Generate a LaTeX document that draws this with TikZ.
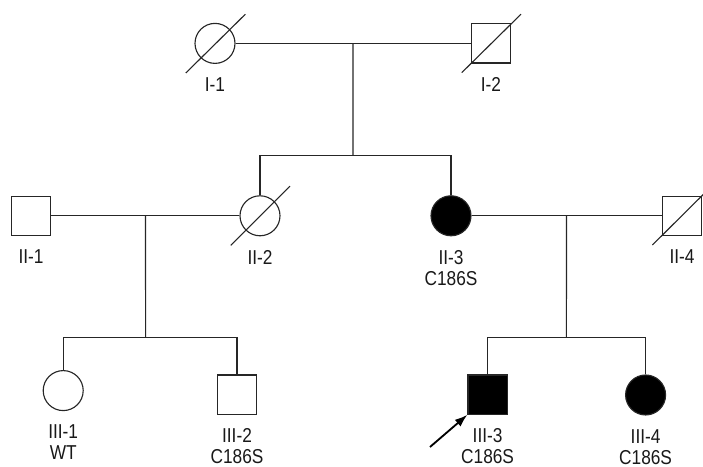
\documentclass[tikz,border=0pt]{standalone}
\usepackage{fontspec}
\setmainfont{Liberation Sans}[FakeStretch=0.86]
\usetikzlibrary{calc,shapes,positioning,arrows.meta}

\begin{document}
\begin{tikzpicture}[line width=0.8pt, draw=black!85, node distance=0.33cm]
    \tikzset{
        male/.style={rectangle, draw, minimum size=0.98cm, inner sep=0pt},
        female/.style={circle, draw, minimum size=1cm, inner sep=0pt},
        affected/.style={fill=black},
        lbl/.style={inner sep=0pt, align=center, text=black!90, font=\fontsize{14.3pt}{15pt}\selectfont}
    }
    \useasboundingbox (0,0) rectangle (17.575,11.675);
    % Place nodes
    \node [female] (I1) at (5.375,10.59) {};
    \node [male] (I2) at (12.275,10.59) {};
    \node [male] (II1) at (0.775,6.28) {};
    \node [female] (II2) at (6.5,6.28) {};
    \node [female, affected] (II3) at (11.275,6.28) {};
    \node [male] (II4) at (17.05,6.28) {};
    \node [female] (III1) at (1.58,1.91) {};
    \node [male] (III2) at (5.925,1.81) {};
    \node [male, affected] (III3) at (12.19,1.81) {};
    \node [female, affected] (III4) at (16.14,1.8) {};
    % Labels
    \node [lbl, below=of I1] (I1l) {I-1};
    \node [lbl, below=of I2] (I2l) {I-2};
    \node [lbl, below=of II1] (II1l) {II-1};
    \node [lbl, below=of II2] (II2l) {II-2};
    \node [lbl, below=of II3] (II3l) {II-3\\C186S};
    \node [lbl, below=of II4] (II4l) {II-4};
    \node [lbl, below=of III1] (III1l) {III-1\\WT};
    \node [lbl, below=of III2] (III2l) {III-2\\C186S};
    \node [lbl, below=of III3] (III3l) {III-3\\C186S};
    \node [lbl, below=of III4] (III4l) {III-4\\C186S};
    % Lines of descent
    \coordinate (Im) at ($(I1)!0.5!(I2)$);
    \coordinate (Is) at (8.825,7.7875);
    \coordinate (IIm) at ($(II1)!0.5!(II2)$);
    \coordinate (IIs) at (3.64,3.2375);
    \coordinate (IIn) at ($(II3)!0.5!(II4)$);
    \coordinate (IIt) at (14.16,3.2375);
    \path [draw] (I1) -- (I2);
    \path [draw] (Im) -- (Is);
    \path [draw] (II2) |- (Is) -| (II3);
    \path [draw] (II1) -- (II2);
    \path [draw] (IIm) -- (IIs);
    \path [draw] (III1) |- (IIs) -| (III2);
    \path [draw] (II3) -- (II4);
    \path [draw] (IIn) -- (IIt);
    \path [draw] (III3) |- (IIt) -| (III4);
    % Deceased
    \path [draw] ($(I1)+(-0.73,-0.74)$) -- ($(I1)+(0.76,0.73)$);
    \path [draw] ($(I2)+(-0.73,-0.73)$) -- ($(I2)+(0.75,0.73)$);
    \path [draw] ($(II2)+(-0.73,-0.74)$) -- ($(II2)+(0.75,0.74)$);
    \path [draw] ($(II4)+(-0.74,-0.73)$) -- ($(II4)+(0.75,0.75)$);
    % Proband
    \coordinate (P) at (10.75,0.5);
    \path [draw=black, -{Latex[length=3.2mm,width=2.2mm]}, line width=1.3pt] (P) -- (III3.south west);
\end{tikzpicture}
\end{document}
